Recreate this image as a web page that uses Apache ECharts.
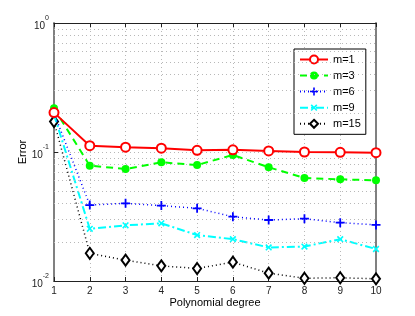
<!DOCTYPE html>
<html><head><meta charset="utf-8">
<script src="https://cdn.jsdelivr.net/npm/echarts@6/dist/echarts.min.js"></script>
<style>html,body{margin:0;padding:0;background:#fff}#c{width:415px;height:316px}</style>
</head><body><div id="c"></div>
<script>
var degrees = [1,2,3,4,5,6,7,8,9,10];
var seriesNames = ['m=1','m=3','m=6','m=9','m=15'];
var errM1  = [0.202,0.112,0.109,0.107,0.103,0.104,0.102,0.100,0.0994,0.0988];
var errM3  = [0.218,0.0783,0.0738,0.0832,0.0793,0.0948,0.0761,0.0629,0.0614,0.0603];
var errM6  = [0.200,0.0388,0.0400,0.0384,0.0366,0.0315,0.0297,0.0304,0.0283,0.0272];
var errM9  = [0.195,0.0254,0.0270,0.0280,0.0227,0.0211,0.0182,0.0185,0.0211,0.0177];
var errM15 = [0.172,0.0164,0.0145,0.0131,0.0125,0.0140,0.0115,0.0105,0.0106,0.0104];
var minorGridValues = [0.02,0.03,0.04,0.05,0.06,0.07,0.08,0.09,0.2,0.3,0.4,0.5,0.6,0.7,0.8,0.9];

function pairs(arr){ return degrees.map(function(d,i){ return [d, arr[i]]; }); }
var FONT = 'Liberation Sans';
var plusPath = 'path://M4,0H6V4H10V6H6V10H4V6H0V4H4Z';
var gridDot = {color:'#b8b8b8', width:1, type:[1,3]};

var chart = echarts.init(document.getElementById('c'));
chart.setOption({
  animation:false,
  textStyle:{fontFamily:FONT},
  grid:{left:54, top:23, right:39, bottom:35, containLabel:false, outerBoundsMode:'none'},
  legend:{
    data:seriesNames, orient:'vertical', left:294, top:49,
    backgroundColor:'#fff', borderColor:'#000', borderWidth:1,
    padding:[5,5,5,5], itemWidth:28, itemHeight:10, itemGap:5,
    textStyle:{fontSize:11, color:'#000', fontFamily:FONT}
  },
  xAxis:[{
    type:'value', min:1, max:10, interval:1,
    name:'Polynomial degree', nameLocation:'middle', nameGap:16, nameMoveOverlap:false,
    nameTextStyle:{fontSize:11, color:'#000', fontFamily:FONT},
    axisLine:{lineStyle:{color:'#222', width:1}},
    axisTick:{inside:true, length:4, lineStyle:{color:'#222'}},
    axisLabel:{fontSize:10, color:'#222', margin:5, fontFamily:FONT},
    splitLine:{show:true, lineStyle:gridDot}
  },{
    type:'value', min:1, max:10, interval:1, position:'top',
    axisLine:{lineStyle:{color:'#222', width:1}},
    axisTick:{inside:true, length:4, lineStyle:{color:'#222'}},
    axisLabel:{show:false}, splitLine:{show:false}
  }],
  yAxis:[{
    type:'log', logBase:10, min:0.01, max:1,
    name:'Error', nameLocation:'middle', nameGap:26, nameRotate:90, nameMoveOverlap:false,
    nameTextStyle:{fontSize:11, color:'#000', fontFamily:FONT},
    axisLine:{lineStyle:{color:'#808080', width:2}},
    axisTick:{inside:true, length:4, lineStyle:{color:'#222'}},
    axisLabel:{
      fontSize:10, color:'#222', margin:5, fontFamily:FONT,
      formatter:function(v){
        var e = Math.round(Math.log10(v));
        return '{b|10}{s|' + e + '}';
      },
      rich:{
        b:{fontSize:10, color:'#222', fontFamily:FONT, verticalAlign:'bottom', lineHeight:16},
        s:{fontSize:7, color:'#222', fontFamily:FONT, verticalAlign:'top', lineHeight:16}
      }
    },
    splitLine:{show:true, lineStyle:gridDot}
  },{
    type:'log', logBase:10, min:0.01, max:1, position:'right',
    axisLine:{lineStyle:{color:'#808080', width:2}},
    axisTick:{inside:true, length:4, lineStyle:{color:'#222'}},
    axisLabel:{show:false}, splitLine:{show:false}
  }],
  series:[
    {name:'gridMinor', type:'line', data:[], silent:true,
     markLine:{silent:true, symbol:['none','none'], label:{show:false},
       lineStyle:gridDot, animation:false,
       data:minorGridValues.map(function(v){return {yAxis:v};})}},
    {name:'m=15', type:'line', data:pairs(errM15), z:3,
     lineStyle:{color:'#000', width:1.5, type:[1,3]},
     itemStyle:{color:'#000', borderColor:'#000', borderWidth:2},
     symbol:'emptyDiamond', symbolSize:[8,11]},
    {name:'m=9', type:'line', data:pairs(errM9), z:4,
     lineStyle:{color:'#00ffff', width:2, type:[8,3,2,3]},
     itemStyle:{color:'#00ffff'},
     symbol:plusPath, symbolRotate:45, symbolSize:8},
    {name:'m=6', type:'line', data:pairs(errM6), z:5,
     lineStyle:{color:'#0000ff', width:1.5, type:[1,3]},
     itemStyle:{color:'#0000ff'},
     symbol:plusPath, symbolSize:9},
    {name:'m=3', type:'line', data:pairs(errM3), z:6,
     lineStyle:{color:'#00ff00', width:2, type:[7,5]},
     itemStyle:{color:'#00ff00'},
     symbol:'circle', symbolSize:8},
    {name:'m=1', type:'line', data:pairs(errM1), z:7,
     lineStyle:{color:'#ff0000', width:2},
     itemStyle:{color:'#ff0000', borderColor:'#ff0000', borderWidth:2},
     symbol:'emptyCircle', symbolSize:9}
  ]
});
</script></body></html>
